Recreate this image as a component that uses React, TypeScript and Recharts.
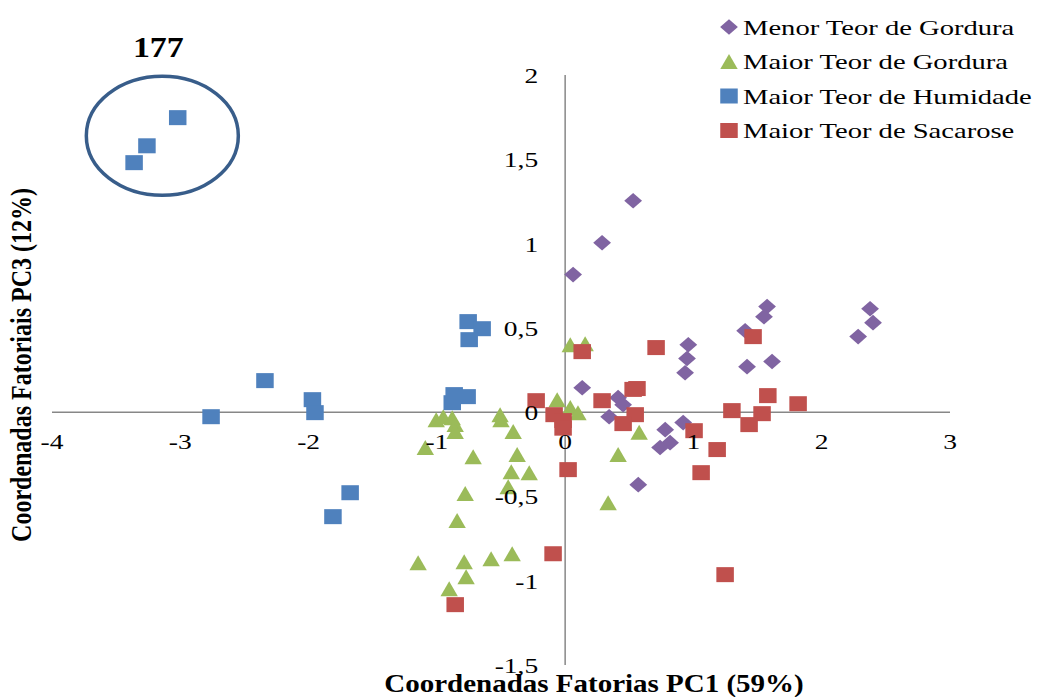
import React from 'react';
import {
  ScatterChart,
  Scatter,
  XAxis,
  YAxis,
  ReferenceLine,
  ReferenceDot,
  Legend,
} from 'recharts';

// ---------- data ----------
const menorGordura = [
  { x: 0.53, y: 1.254 },
  { x: 0.288, y: 1.005 },
  { x: 0.062, y: 0.816 },
  { x: 0.96, y: 0.4 },
  { x: 0.95, y: 0.318 },
  { x: 0.935, y: 0.234 },
  { x: 0.133, y: 0.145 },
  { x: 0.413, y: 0.086 },
  { x: 0.452, y: 0.044 },
  { x: 0.343, y: -0.027 },
  { x: 1.574, y: 0.626 },
  { x: 1.55, y: 0.566 },
  { x: 1.403, y: 0.483 },
  { x: 1.418, y: 0.27 },
  { x: 1.613, y: 0.3 },
  { x: 0.92, y: -0.062 },
  { x: 0.78, y: -0.104 },
  { x: 0.818, y: -0.181 },
  { x: 0.74, y: -0.21 },
  { x: 0.57, y: -0.43 },
  { x: 2.377, y: 0.613 },
  { x: 2.4, y: 0.531 },
  { x: 2.284, y: 0.448 },
];

const maiorGordura = [
  { x: -1.005, y: -0.045 },
  { x: -0.95, y: -0.027 },
  { x: -0.88, y: -0.033 },
  { x: -0.857, y: -0.074 },
  { x: -0.857, y: -0.115 },
  { x: -0.507, y: -0.015 },
  { x: -0.5, y: -0.045 },
  { x: -0.405, y: -0.115 },
  { x: -1.09, y: -0.21 },
  { x: -0.717, y: -0.264 },
  { x: -0.374, y: -0.252 },
  { x: -0.42, y: -0.353 },
  { x: -0.28, y: -0.359 },
  { x: -0.444, y: -0.442 },
  { x: -0.779, y: -0.483 },
  { x: -0.842, y: -0.643 },
  { x: -1.146, y: -0.893 },
  { x: -0.787, y: -0.887 },
  { x: -0.577, y: -0.869 },
  { x: -0.413, y: -0.84 },
  { x: -0.772, y: -0.976 },
  { x: -0.904, y: -1.047 },
  { x: 0.335, y: -0.537 },
  { x: 0.413, y: -0.252 },
  { x: 0.577, y: -0.12 },
  { x: 0.04, y: 0.4 },
  { x: 0.156, y: 0.406 },
  { x: -0.062, y: 0.074 },
  { x: 0.04, y: 0.027 },
  { x: 0.1, y: -0.003 },
];

const maiorHumidade = [
  { x: -3.02, y: 1.747 },
  { x: -3.26, y: 1.58 },
  { x: -3.36, y: 1.48 },
  { x: -0.756, y: 0.537 },
  { x: -0.647, y: 0.495 },
  { x: -0.748, y: 0.43 },
  { x: -2.34, y: 0.187 },
  { x: -1.97, y: 0.074 },
  { x: -1.95, y: -0.003 },
  { x: -2.76, y: -0.027 },
  { x: -0.865, y: 0.104 },
  { x: -0.764, y: 0.092 },
  { x: -0.88, y: 0.056 },
  { x: -1.676, y: -0.478 },
  { x: -1.81, y: -0.62 },
];

const maiorSacarose = [
  { x: 0.133, y: 0.359 },
  { x: 0.709, y: 0.383 },
  { x: -0.226, y: 0.068 },
  { x: 0.288, y: 0.068 },
  { x: 0.53, y: 0.135 },
  { x: 0.56, y: 0.14 },
  { x: -0.086, y: -0.015 },
  { x: -0.016, y: -0.05 },
  { x: -0.016, y: -0.095 },
  { x: 1.465, y: 0.448 },
  { x: 1.58, y: 0.098 },
  { x: 1.816, y: 0.05 },
  { x: 1.3, y: 0.009 },
  { x: 1.535, y: -0.009 },
  { x: 1.434, y: -0.074 },
  { x: 0.546, y: -0.015 },
  { x: 0.452, y: -0.068 },
  { x: 1.005, y: -0.11 },
  { x: 1.185, y: -0.222 },
  { x: 1.06, y: -0.359 },
  { x: 0.023, y: -0.341 },
  { x: -0.094, y: -0.84 },
  { x: -0.857, y: -1.142 },
  { x: 1.247, y: -0.964 },
];

const X_TICKS = [-4, -3, -2, -1, 0, 1, 2, 3];
const Y_TICKS = [-1.5, -1, -0.5, 0, 0.5, 1, 1.5, 2];
const SERIES_NAMES = [
  'Menor Teor de Gordura',
  'Maior Teor de Gordura',
  'Maior Teor de Humidade',
  'Maior Teor de Sacarose',
];
const X_TITLE = 'Coordenadas Fatorias PC1 (59%)';
const Y_TITLE = 'Coordenadas Fatoriais PC3 (12%)';
const GROUP_LABEL = '177';

// ---------- layout ----------
const W = 1038;
const H = 697;
const PLOT_L = 52;
const PLOT_R = 950;
const PLOT_T = 75;
const PLOT_B = 665;
const X_DOMAIN: [number, number] = [-4, 3];
const Y_DOMAIN: [number, number] = [-1.5, 2];
const ZERO_X = PLOT_L + ((0 - X_DOMAIN[0]) / (X_DOMAIN[1] - X_DOMAIN[0])) * (PLOT_R - PLOT_L);
const ZERO_Y = PLOT_T + ((Y_DOMAIN[1] - 0) / (Y_DOMAIN[1] - Y_DOMAIN[0])) * (PLOT_B - PLOT_T);

const FONT = '"Liberation Serif", "Times New Roman", serif';
const COLORS = ['#8064A2', '#9BBB59', '#4F81BD', '#C0504D'];
const AXIS_COLOR = '#878787';

const fmt = (v: number) => String(v).replace('.', ',');

// ---------- marker shapes ----------
const Diamond = ({ cx, cy, fill }: any) => (
  <polygon
    points={`${cx},${cy - 7.8} ${cx + 8.9},${cy} ${cx},${cy + 7.8} ${cx - 8.9},${cy}`}
    fill={fill}
  />
);
const Triangle = ({ cx, cy, fill }: any) => (
  <polygon
    points={`${cx},${cy - 7.5} ${cx + 8.7},${cy + 7.5} ${cx - 8.7},${cy + 7.5}`}
    fill={fill}
  />
);
const Square = ({ cx, cy, fill }: any) => (
  <rect x={cx - 8.75} y={cy - 7.5} width={17.5} height={15} fill={fill} />
);
const SHAPES = [Diamond, Triangle, Square, Square];

const makeShape = (i: number) => (props: any) => {
  const S = SHAPES[i];
  if (props.cx == null || props.cy == null) return <g />;
  return <S cx={props.cx} cy={props.cy} fill={COLORS[i]} />;
};

// ---------- ticks ----------
const XTick = (props: any) => {
  const { x, payload } = props;
  return (
    <g transform={`translate(${x},${ZERO_Y + 37}) scale(1.25,1)`}>
      <text x={0} y={0} textAnchor="middle" fontSize={22} fontFamily={FONT} fill="#000">
        {fmt(payload.value)}
      </text>
    </g>
  );
};

const YTick = (props: any) => {
  const { y, payload } = props;
  return (
    <g transform={`translate(${ZERO_X - 27},${y + 8}) scale(1.25,1)`}>
      <text x={0} y={0} textAnchor="end" fontSize={22} fontFamily={FONT} fill="#000">
        {fmt(payload.value)}
      </text>
    </g>
  );
};

const XTitle = () => (
  <g transform={`translate(594,692) scale(1.16,1)`}>
    <text x={0} y={0} textAnchor="middle" fontSize={25} fontWeight="bold" fontFamily={FONT} fill="#000">
      {X_TITLE}
    </text>
  </g>
);

const YTitle = () => (
  <g transform={`translate(31,365) scale(1.25,1) rotate(-90)`}>
    <text x={0} y={0} textAnchor="middle" fontSize={24} fontWeight="bold" fontFamily={FONT} fill="#000">
      {Y_TITLE}
    </text>
  </g>
);

const GroupMark = (props: any) => {
  const { cx, cy } = props;
  if (cx == null || cy == null) return <g />;
  return (
    <g>
      <ellipse cx={cx} cy={cy} rx={76} ry={59.5} fill="none" stroke="#385D8A" strokeWidth={3.5} />
      <g transform={`translate(${cx - 4},${cy - 79}) scale(1.13,1)`}>
        <text x={0} y={0} textAnchor="middle" fontSize={30} fontWeight="bold" fontFamily={FONT} fill="#000">
          {GROUP_LABEL}
        </text>
      </g>
    </g>
  );
};

const LegendContent = () => (
  <svg width={326} height={150} style={{ overflow: 'visible', display: 'block' }}>
    {SERIES_NAMES.map((name, i) => {
      const cy = 27 + i * 34.5;
      const S = SHAPES[i];
      return (
        <g key={name}>
          <S cx={17} cy={cy} fill={COLORS[i]} />
          <g transform={`translate(31,${cy + 7.5}) scale(1.3,1)`}>
            <text x={0} y={0} fontSize={22} fontFamily={FONT} fill="#000">
              {name}
            </text>
          </g>
        </g>
      );
    })}
  </svg>
);

export default function App() {
  const seriesData = [menorGordura, maiorGordura, maiorHumidade, maiorSacarose];
  return (
    <div style={{ position: 'absolute', left: 0, top: 0, width: W, height: H, background: '#fff' }}>
      <ScatterChart
        width={W}
        height={H}
        margin={{ top: PLOT_T, right: W - PLOT_R, bottom: H - PLOT_B - 30, left: PLOT_L - 40 }}
      >
        <XAxis
          type="number"
          dataKey="x"
          domain={X_DOMAIN}
          ticks={X_TICKS}
          interval={0}
          axisLine={false}
          tickLine={false}
          height={30}
          allowDataOverflow
          tick={<XTick />}
          label={{ content: () => <XTitle /> }}
        />
        <YAxis
          type="number"
          dataKey="y"
          domain={Y_DOMAIN}
          ticks={Y_TICKS}
          interval={0}
          axisLine={false}
          tickLine={false}
          width={40}
          allowDataOverflow
          tick={<YTick />}
          label={{ content: () => <YTitle /> }}
        />
        <ReferenceLine x={0} stroke={AXIS_COLOR} strokeWidth={1.5} />
        <ReferenceLine y={0} stroke={AXIS_COLOR} strokeWidth={1.5} />
        <Legend
          layout="horizontal"
          verticalAlign="middle"
          align="center"
          wrapperStyle={{ left: 712, top: 0, width: 326, height: 150 }}
          content={() => <LegendContent />}
        />
        {seriesData.map((d, i) => (
          <Scatter
            key={SERIES_NAMES[i]}
            name={SERIES_NAMES[i]}
            data={d}
            fill={COLORS[i]}
            shape={makeShape(i)}
            isAnimationActive={false}
          />
        ))}
        <ReferenceDot x={-3.14} y={1.64} r={1} shape={(p: any) => <GroupMark {...p} />} ifOverflow="visible" />
      </ScatterChart>
    </div>
  );
}
